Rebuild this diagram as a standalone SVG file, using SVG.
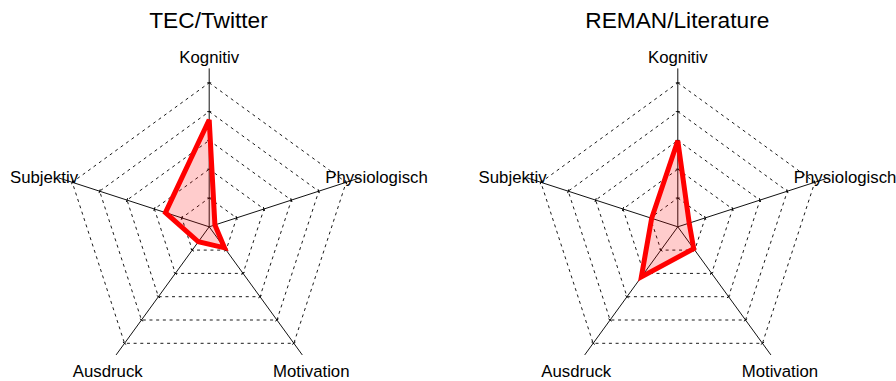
<svg xmlns="http://www.w3.org/2000/svg" xmlns:xlink="http://www.w3.org/1999/xlink" width="896" height="381" viewBox="0 0 896 381">
<style>
.ring{fill:none;stroke:#000;stroke-width:0.9;stroke-dasharray:3,3.7}
.axis{fill:none;stroke:#111;stroke-width:1;marker-mid:url(#tick)}
.data{fill:rgba(255,0,0,0.2);stroke:#ff0000;stroke-width:5;stroke-linejoin:miter;stroke-miterlimit:4}
.title{font-family:"Liberation Sans",Arial,sans-serif;font-size:22.7px;fill:#000;text-anchor:middle}
.lbl{font-family:"Liberation Sans",Arial,sans-serif;font-size:16.8px;fill:#000;text-anchor:middle}
</style>
<defs>
<marker id="tick" viewBox="-3 -3 6 6" markerWidth="6" markerHeight="6" refX="0" refY="0" orient="auto" markerUnits="userSpaceOnUse" overflow="visible">
<path d="M0,-2V2" stroke="#000" stroke-width="0.9" fill="none"/>
</marker>
<g id="grid">
<polygon class="ring" points="0,-28.8 27.39,-8.9 16.93,23.3 -16.93,23.3 -27.39,-8.9"/>
<polygon class="ring" points="0,-57.6 54.78,-17.8 33.86,46.6 -33.86,46.6 -54.78,-17.8"/>
<polygon class="ring" points="0,-86.4 82.17,-26.7 50.79,69.9 -50.79,69.9 -82.17,-26.7"/>
<polygon class="ring" points="0,-115.2 109.56,-35.6 67.72,93.2 -67.72,93.2 -109.56,-35.6"/>
<polygon class="ring" points="0,-144 136.95,-44.5 84.65,116.5 -84.65,116.5 -136.95,-44.5"/>
<polyline class="axis" points="0,0 0,-28.8 0,-57.6 0,-86.4 0,-115.2 0,-144 0,-158.4"/>
<polyline class="axis" points="0,0 27.39,-8.9 54.78,-17.8 82.17,-26.7 109.56,-35.6 136.95,-44.5 150.65,-48.95"/>
<polyline class="axis" points="0,0 16.93,23.3 33.86,46.6 50.79,69.9 67.72,93.2 84.65,116.5 93.11,128.15"/>
<polyline class="axis" points="0,0 -16.93,23.3 -33.86,46.6 -50.79,69.9 -67.72,93.2 -84.65,116.5 -93.11,128.15"/>
<polyline class="axis" points="0,0 -27.39,-8.9 -54.78,-17.8 -82.17,-26.7 -109.56,-35.6 -136.95,-44.5 -150.65,-48.95"/>
</g>
</defs>
<g id="chart-tec">
<text class="title" x="208.5" y="28.3">TEC/Twitter</text>
<use xlink:href="#grid" href="#grid" transform="translate(209.2,226.8)"/>
<polygon class="data" transform="translate(209.2,226.8)" points="0,-107 5.71,-1.85 15.28,21.03 -10.87,14.97 -43.75,-14.21"/>
<g id="labels-tec">
<text class="lbl" x="209.2" y="62.7">Kognitiv</text>
<text class="lbl" x="376.5" y="182.7">Physiologisch</text>
<text class="lbl" x="311.3" y="376.5">Motivation</text>
<text class="lbl" x="107.7" y="376.5">Ausdruck</text>
<text class="lbl" x="44" y="182.7">Subjektiv</text>
</g>
</g>
<g id="chart-reman">
<text class="title" x="677.3" y="28.3">REMAN/Literature</text>
<use xlink:href="#grid" href="#grid" transform="translate(677.8,226.8)"/>
<polygon class="data" transform="translate(677.8,226.8)" points="0,-86 11.41,-3.71 15.87,21.84 -36.44,50.16 -26.15,-8.5"/>
<g id="labels-reman">
<text class="lbl" x="677.8" y="62.7">Kognitiv</text>
<text class="lbl" x="845.1" y="182.7">Physiologisch</text>
<text class="lbl" x="779.9" y="376.5">Motivation</text>
<text class="lbl" x="576.3" y="376.5">Ausdruck</text>
<text class="lbl" x="512.6" y="182.7">Subjektiv</text>
</g>
</g>
</svg>
